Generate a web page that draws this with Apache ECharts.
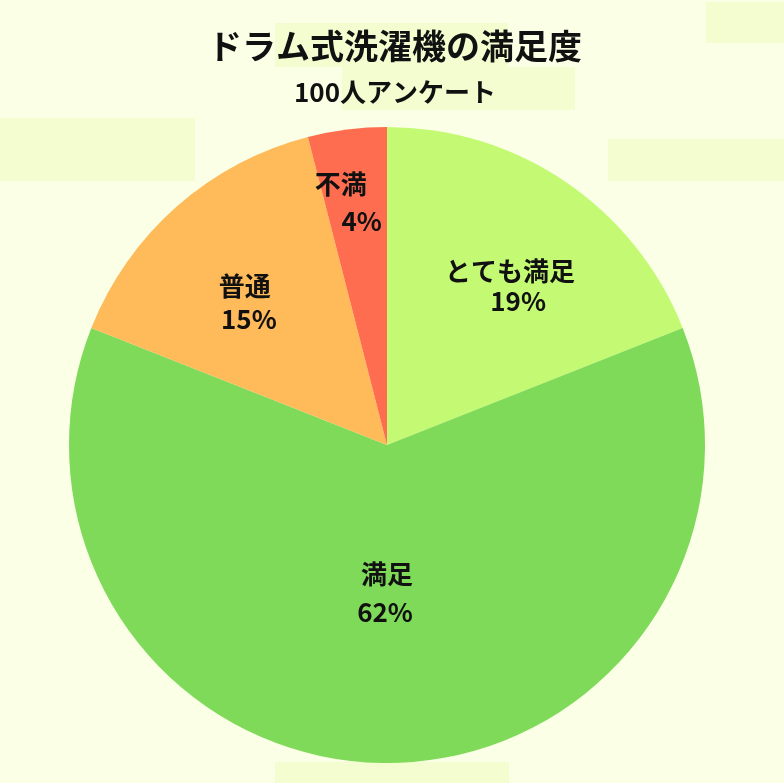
<!DOCTYPE html>
<html style="height: 100%">
<head>
    <meta charset="UTF-8">
    <script type="text/javascript" src="https://cdn.jsdelivr.net/npm/echarts@6/dist/echarts.min.js"></script>
    <style type="text/css">
        body {margin:0; padding:0; overflow:hidden; height: 100%; background:#FAFFE6}
    </style>
</head>
<body>
    <div id="container" style="width:784px;height:783px"></div>
</body>
<script>
    // データ
    var categories = ['とても満足', '満足', '普通', '不満'];
    var values = [19, 62, 15, 4];
    var colors = ['#C4FA73', '#7FDA59', '#FFBA5A', '#FF6D50'];

    // ラベル位置の微調整 (px)
    var nudge = [[36, -25], [0, -14], [-33, -21], [-16, -82]];
    var lineH = [30, 38, 33, 37];
    // 1行目/2行目の横ずれ (px)
    var shift = [[-4, 4], [0, -2], [-2, 2], [-10, 11]];

    var myChart = echarts.init(document.getElementById('container'));

    function pad(s) {
        return s >= 0 ? [0, 0, 0, s * 2] : [0, -s * 2, 0, 0];
    }

    var pieData = categories.map(function (name, i) {
        return {
            name: name,
            value: values[i],
            itemStyle: {color: colors[i]},
            label: {
                rich: {
                    n: {padding: pad(shift[i][0]), lineHeight: lineH[i]},
                    v: {padding: pad(shift[i][1]), lineHeight: lineH[i]}
                }
            }
        };
    });

    var deco = [
        [706, 2, 78, 41],
        [608, 139, 176, 42],
        [0, 118, 195, 63],
        [275, 762, 234, 21],
        [275, 23, 233, 44],
        [342, 67, 233, 43]
    ];

    var option = {
        backgroundColor: '#FAFFE6',
        graphic: deco.map(function (r) {
            return {
                type: 'rect', z: -10, silent: true,
                shape: {x: r[0], y: r[1], width: r[2], height: r[3]},
                style: {fill: '#F4FDD0'}
            };
        }),
        title: {
            text: 'ドラム式洗濯機の満足度',
            subtext: '100人アンケート',
            left: 390,
            top: 24,
            textAlign: 'center',
            itemGap: 16,
            textStyle: {
                fontFamily: 'Noto Sans CJK JP',
                fontWeight: 'bold',
                fontSize: 34,
                color: '#111'
            },
            subtextStyle: {
                fontFamily: 'Noto Sans CJK JP',
                fontWeight: 'bold',
                fontSize: 26,
                color: '#111'
            }
        },
        series: [{
            type: 'pie',
            center: [387, 445],
            radius: [0, 318],
            startAngle: 90,
            clockwise: true,
            animation: false,
            itemStyle: {borderWidth: 0},
            label: {
                show: true,
                position: 'inside',
                formatter: '{n|{b}}\n{v|{c}%}',
                fontFamily: 'Noto Sans CJK JP',
                fontWeight: 'bold',
                fontSize: 26,
                color: '#111',
                align: 'center'
            },
            labelLayout: function (p) {
                var n = nudge[p.dataIndex];
                return {dx: n[0], dy: n[1]};
            },
            data: pieData
        }]
    };
    myChart.setOption(option);
</script>
</html>
